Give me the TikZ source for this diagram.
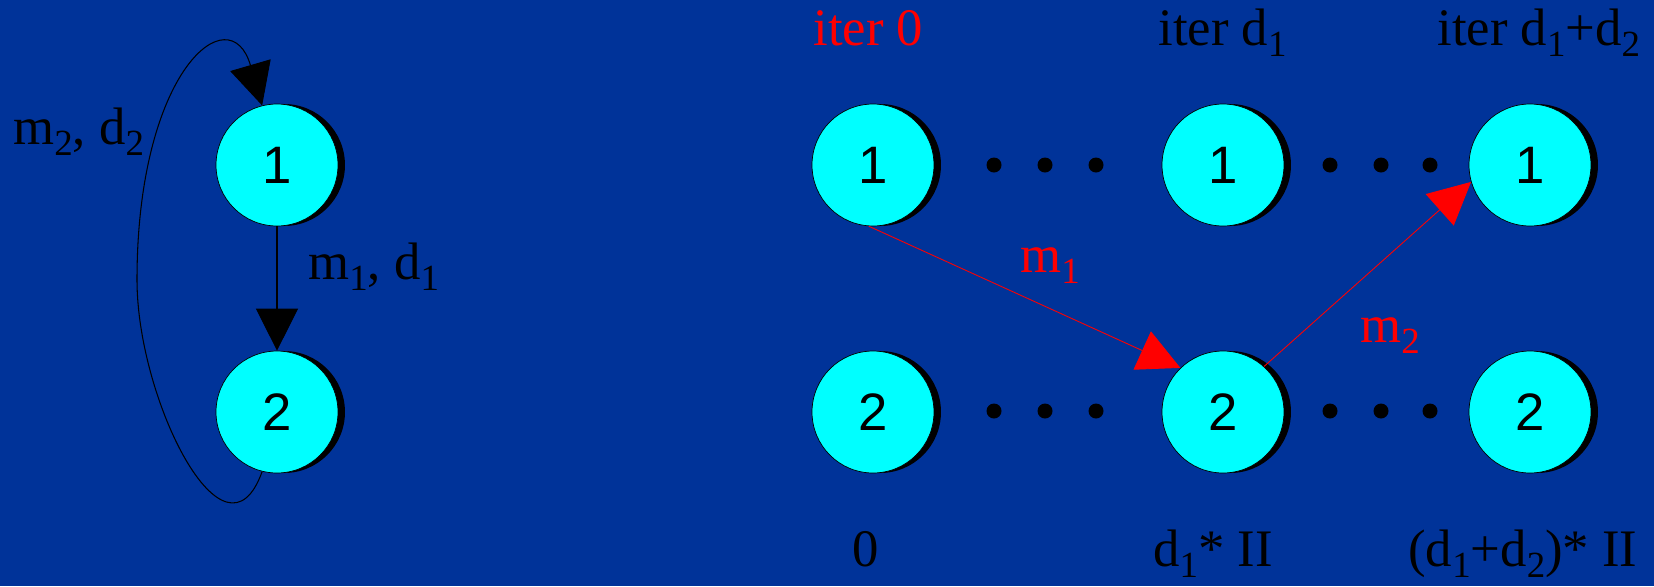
\documentclass[tikz,border=0pt]{standalone}
\usepackage{fontspec}
\setmainfont{Liberation Serif}
\newfontfamily\numfont{Liberation Sans}
\usepackage{tikz}
\usetikzlibrary{arrows.meta, shadows}
\definecolor{slideblue}{RGB}{0,51,153}
\definecolor{nodecyan}{RGB}{0,255,255}
\definecolor{pptred}{RGB}{255,0,0}
\newcommand{\lowidx}[1]{\raisebox{-6.5pt}{\fontsize{21}{21}\selectfont #1}}

\begin{document}
\begin{tikzpicture}[x=0.02cm, y=-0.02cm,
  state/.style={circle,draw=black,thin,fill=nodecyan,minimum size=2.44cm,inner sep=0pt,
                font=\numfont\fontsize{30}{36}\selectfont,
                drop shadow={shadow xshift=0.14cm,shadow yshift=0cm,opacity=1,fill=black}},
  lbl/.style={inner sep=0pt,anchor=base west,font=\fontsize{30}{36}\selectfont},
  dot/.style={circle,fill=black,minimum size=0.3cm,inner sep=0pt},
  arr/.style={-{Triangle[length=0.84cm,width=0.84cm]},line width=0.6pt},
  redarr/.style={-{Triangle[length=0.84cm,width=0.84cm]},pptred,line width=0.5pt}
]
\fill[slideblue] (0,0) rectangle (1654,586);
\useasboundingbox (0,0) rectangle (1654,586);

\node[state] (a1) at (277,165) {1};
\node[state] (a2) at (277,412) {2};
\draw[arr] (a1) -- (a2);
\draw[arr] (a2.256) .. controls (225,575) and (137,400) .. (137,280)
  .. controls (137,70) and (230,-5) .. (a1.104);
\node[lbl] (lm2) at (13,144) {m\lowidx{2}, d\lowidx{2}};
\node[lbl] (lm1) at (308,279) {m\lowidx{1}, d\lowidx{1}};

\node[state] (p1) at (873,165) {1};
\node[state] (q1) at (1223,165) {1};
\node[state] (r1) at (1530,165) {1};
\node[state] (p2) at (873,412) {2};
\node[state] (q2) at (1223,412) {2};
\node[state] (r2) at (1530,412) {2};
\foreach \row/\y in {1/165,2/411}
  \foreach \i/\x in {1/994,2/1045,3/1096,4/1330,5/1381,6/1430}
    \node[dot] (dot\row\i) at (\x,\y) {};

\draw[redarr] (p1.266) -- (q2.134);
\draw[redarr] (q2.48) -- (r1.196);
\node[lbl,text=pptred] (rm1) at (1020,272) {m\lowidx{1}};
\node[lbl,text=pptred] (rm2) at (1360,342) {m\lowidx{2}};

\node[lbl,text=pptred] (it0) at (813,45) {iter 0};
\node[lbl] (it1) at (1158,45) {iter d\lowidx{1}};
\node[lbl] (it2) at (1437,45) {iter d\lowidx{1}+d\lowidx{2}};
\node[lbl] (t0) at (852,566) {0};
\node[lbl] (t1) at (1153,566) {d\lowidx{1}* II};
\node[lbl] (t2) at (1408,566) {(d\lowidx{1}+d\lowidx{2})* II};
\end{tikzpicture}
\end{document}
